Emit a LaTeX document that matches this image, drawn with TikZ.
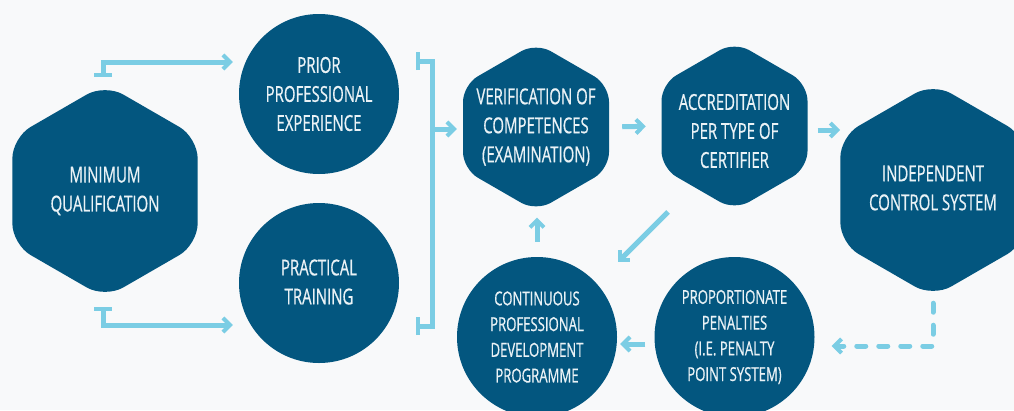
\documentclass[tikz,border=0pt]{standalone}
\usepackage{fontspec}
\newfontfamily\condfont{Open Sans}[FakeStretch=0.68,FakeBold=0.6]
\usetikzlibrary{shapes.geometric,arrows.meta}
\definecolor{navy}{HTML}{03567F}
\definecolor{sky}{HTML}{7BCDE4}
\definecolor{paper}{HTML}{F8F9FA}
\definecolor{ink}{HTML}{EAF2F6}

\begin{document}
\begin{tikzpicture}[x=1pt,y=-1pt,
  every node/.style={text=ink, align=center, inner sep=0pt},
  bigtxt/.style={font={\condfont\fontsize{22}{29}\selectfont}},
  smalltxt/.style={font={\condfont\fontsize{19.3}{25.7}\selectfont}},
  hexbase/.style={regular polygon, regular polygon sides=6,
    shape border rotate=30, fill=navy},
  bighex/.style={hexbase, minimum size=214pt, rounded corners=21pt},
  smallhex/.style={hexbase, minimum size=168.6pt, rounded corners=17pt},
  disc/.style={circle, fill=navy, minimum size=160pt},
  tipbarb/.tip={Straight Barb[length=7pt,width=14pt,line width=4pt]},
  tipbar/.tip={Bar[width=18pt,line width=3.5pt]},
  arr/.style={draw=sky, line width=5pt, -tipbarb},
  brkarr/.style={draw=sky, line width=5pt, tipbar-tipbarb},
  brk/.style={draw=sky, line width=5pt, tipbar-tipbar},
  dsh/.style={draw=sky, line width=5pt, line cap=round,
    dash pattern=on 9pt off 13pt, -tipbarb},
]
\useasboundingbox (0,0) rectangle (1014,410);
\clip (0,0) rectangle (1014,410);
\fill[paper] (0,0) rectangle (1014,410);

% stages: shapes
\node[bighex] (mq) at (105,191) {};
\node[disc] (pre) at (319,94) {};
\node[disc] (pra) at (319,283) {};
\node[smallhex] (ver) at (536,127) {};
\node[smallhex] (acc) at (734.5,126) {};
\node[bighex] (ind) at (933,190) {};
\node[disc] (pro) at (734.5,337) {};
\node[disc] (cpd) at (537,337) {};

% stages: labels
\node[bigtxt] (mqT) at (mq) {MINIMUM\\QUALIFICATION};
\node[bigtxt] (preT) at (pre) {PRIOR\\PROFESSIONAL\\EXPERIENCE};
\node[bigtxt] (praT) at ([yshift=1pt]pra) {PRACTICAL\\TRAINING};
\node[bigtxt] (verT) at (ver) {VERIFICATION OF\\COMPETENCES\\(EXAMINATION)};
\node[bigtxt] (accT) at ([yshift=-5pt]acc) {ACCREDITATION\\PER TYPE OF\\CERTIFIER};
\node[bigtxt] (indT) at ([yshift=2pt]ind) {INDEPENDENT\\CONTROL SYSTEM};
\node[smalltxt] (proT) at (pro) {PROPORTIONATE\\PENALTIES\\(I.E. PENALTY\\POINT SYSTEM)};
\node[smalltxt] (cpdT) at (cpd) {CONTINUOUS\\PROFESSIONAL\\DEVELOPMENT\\PROGRAMME};

% bracket joining the two entry routes
\coordinate (brT) at (416,61);
\coordinate (brB) at (416,326);
\coordinate (brM) at (432,129);
\coordinate (dgA) at (668,212);
\coordinate (dgB) at (618,262);

% connectors
\draw[brkarr, shorten <=7pt, shorten >=6pt]
  ([xshift=-2pt]mq.north) |- ([yshift=32pt]pre.west);
\draw[brkarr, shorten <=9pt, shorten >=6pt]
  ([xshift=-2pt]mq.south) |- ([yshift=-42pt]pra.west);
\draw[brk] (brT) -- (brM |- brT) |- (brB);
\draw[arr, shorten >=6pt] (brM) -- (brM -| ver.west);
\draw[arr, shorten <=13pt, shorten >=15.5pt] (ver.east) -- (acc.west);
\draw[arr, shorten <=10pt] ([yshift=-4pt]acc.east) -- ([yshift=-4pt]acc.east -| ind.west);
\draw[dsh, shorten <=6pt, shorten >=17pt] (ind.south) |- ([yshift=-9pt]pro.east);
\draw[arr, shorten <=9pt, shorten >=3pt] ([yshift=-7pt]pro.west) -- ([yshift=-7pt]cpd.east);
\draw[arr, shorten <=15pt, shorten >=6pt] (cpd.north) -- (cpd.north |- ver.south);
\draw[arr] (dgA) -- (dgB);
\end{tikzpicture}
\end{document}
